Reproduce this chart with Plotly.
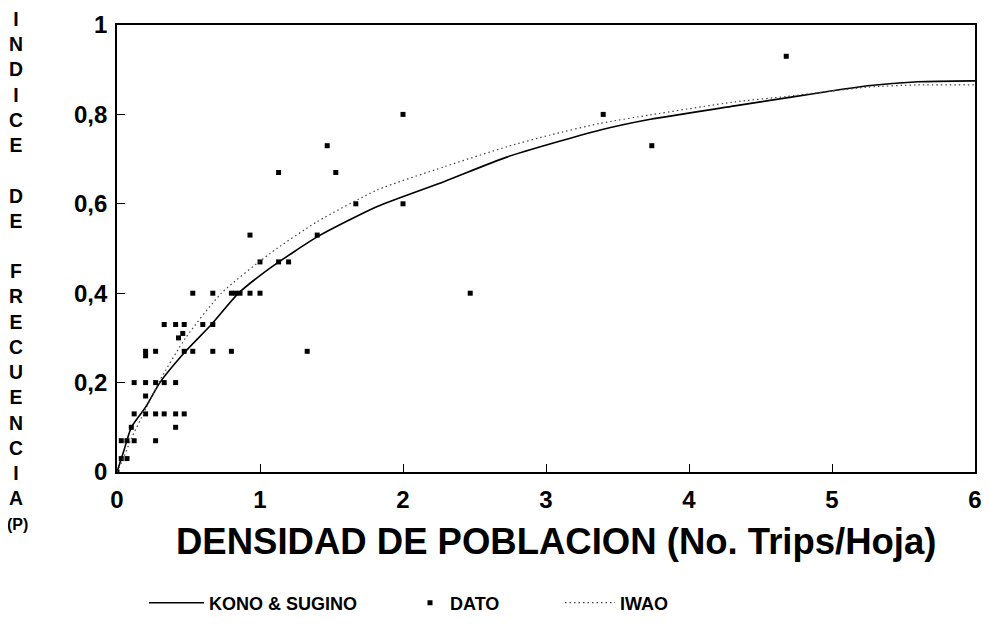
import plotly.graph_objects as go

# ---- data ----
dato_x = [0, 0.03, 0.07, 0.03, 0.07, 0.12, 0.27, 0.10, 0.41,
          0.12, 0.20, 0.27, 0.33, 0.41, 0.47, 0.20,
          0.12, 0.20, 0.27, 0.33, 0.41,
          0.20, 0.20, 0.27, 0.47, 0.53, 0.67, 0.80, 1.33,
          0.43, 0.46,
          0.33, 0.41, 0.47, 0.60, 0.67,
          0.53, 0.67, 0.80, 0.83, 0.86, 0.93, 1.00, 2.47,
          1.00, 1.13, 1.20,
          0.93, 1.40,
          1.67, 2.00,
          1.13, 1.53,
          1.47, 3.74,
          2.00, 3.40,
          4.68]
dato_y = [0, 0.03, 0.03, 0.07, 0.07, 0.07, 0.07, 0.10, 0.10,
          0.13, 0.13, 0.13, 0.13, 0.13, 0.13, 0.17,
          0.20, 0.20, 0.20, 0.20, 0.20,
          0.26, 0.27, 0.27, 0.27, 0.27, 0.27, 0.27, 0.27,
          0.30, 0.31,
          0.33, 0.33, 0.33, 0.33, 0.33,
          0.40, 0.40, 0.40, 0.40, 0.40, 0.40, 0.40, 0.40,
          0.47, 0.47, 0.47,
          0.53, 0.53,
          0.60, 0.60,
          0.67, 0.67,
          0.73, 0.73,
          0.80, 0.80,
          0.93]

kono_x = [0, 0.05, 0.10, 0.20, 0.30, 0.48, 0.66, 0.85, 1.07, 1.40, 1.82,
          2.29, 2.73, 3.38, 3.73, 4.32, 4.68, 5.25, 5.60, 6.0]
kono_y = [0, 0.05, 0.10, 0.145, 0.20, 0.27, 0.33, 0.40, 0.456, 0.526, 0.594,
          0.65, 0.705, 0.765, 0.789, 0.819, 0.837, 0.864, 0.873, 0.875]

iwao_x = [0, 0.05, 0.10, 0.20, 0.30, 0.48, 0.73, 1.07, 1.40, 1.82, 2.29,
          2.73, 3.03, 3.38, 3.73, 4.32, 4.68, 5.25, 5.60, 6.0]
iwao_y = [0, 0.035, 0.075, 0.14, 0.205, 0.30, 0.40, 0.489, 0.56, 0.631, 0.683,
          0.728, 0.754, 0.78, 0.799, 0.828, 0.840, 0.861, 0.866, 0.866]

x_ticks = [0, 1, 2, 3, 4, 5, 6]
y_ticks = [0, 0.2, 0.4, 0.6, 0.8, 1]
y_ticktext = ["0", "0,2", "0,4", "0,6", "0,8", "1"]

# ---- layout geometry (page body has an 8px margin) ----
OFF = 8
W, H = 982, 617
ML, MT = 109, 17
PW, PH = 858, 447
MR = W - ML - PW
MB = H - MT - PH

def px(xp):
    return (xp - OFF - ML) / PW

def py(yp):
    return (MT + PH - (yp - OFF)) / PH

FONT = "Liberation Sans, Arial, Helvetica, sans-serif"

fig = go.Figure()
fig.add_trace(go.Scatter(x=kono_x, y=kono_y, mode="lines", name="KONO & SUGINO",
                         line=dict(color="black", width=1.6, shape="spline", smoothing=0.6),
                         legend="legend"))
fig.add_trace(go.Scatter(x=dato_x, y=dato_y, mode="markers", name="DATO",
                         marker=dict(symbol="square", size=5, color="black"),
                         legend="legend2"))
fig.add_trace(go.Scatter(x=iwao_x, y=iwao_y, mode="lines", name="IWAO",
                         line=dict(color="#444444", width=1.2, dash="1.5px,3px",
                                   shape="spline", smoothing=0.6),
                         legend="legend3"))

leg_common = dict(orientation="h", yanchor="middle", xanchor="left",
                  bgcolor="rgba(0,0,0,0)",
                  font=dict(family=FONT, size=18, color="black", weight="bold"))

fig.update_layout(
    width=W, height=H,
    margin=dict(l=ML, r=MR, t=MT, b=MB, autoexpand=False),
    paper_bgcolor="white", plot_bgcolor="white",
    showlegend=True,
    legend=dict(x=px(144), y=py(603), itemwidth=55, **leg_common),
    legend2=dict(x=px(410), y=py(603), itemwidth=30, **leg_common),
    legend3=dict(x=px(560), y=py(603), itemwidth=50, **leg_common),
    xaxis=dict(range=[0, 6], tickvals=x_ticks, ticks="inside", ticklen=8,
               tickcolor="black", tickwidth=1.2,
               showline=True, linecolor="black", linewidth=1.6, mirror=True,
               showgrid=False, zeroline=False,
               tickfont=dict(family=FONT, size=24, color="black", weight="bold"),
               ticklabelstandoff=5),
    yaxis=dict(range=[0, 1], tickvals=y_ticks, ticktext=y_ticktext, ticks="inside",
               ticklen=8, tickcolor="black", tickwidth=1.2,
               showline=True, linecolor="black", linewidth=1.6, mirror=True,
               showgrid=False, zeroline=False,
               tickfont=dict(family=FONT, size=24, color="black", weight="bold"),
               ticklabelstandoff=3),
)

# x-axis title (slightly right of the plot centre, as in the reference)
fig.add_annotation(text="DENSIDAD DE POBLACION (No. Trips/Hoja)", xref="paper", yref="paper",
                   x=px(556), y=py(541), xanchor="center", yanchor="middle", showarrow=False,
                   font=dict(family=FONT, size=36.5, color="black", weight="bold"))

letters = "I<br>N<br>D<br>I<br>C<br>E<br> <br>D<br>E<br> <br>F<br>R<br>E<br>C<br>U<br>E<br>N<br>C<br>I<br>A"
fig.add_annotation(text=letters, xref="paper", yref="paper", x=px(16), y=py(6),
                   xanchor="center", yanchor="top", showarrow=False, align="center",
                   font=dict(family=FONT, size=19.4, color="black", weight="bold"))
fig.add_annotation(text="(P)", xref="paper", yref="paper", x=px(17), y=py(524),
                   xanchor="center", yanchor="middle", showarrow=False,
                   font=dict(family=FONT, size=16, color="black", weight="bold"))

fig.write_html("out.html")
